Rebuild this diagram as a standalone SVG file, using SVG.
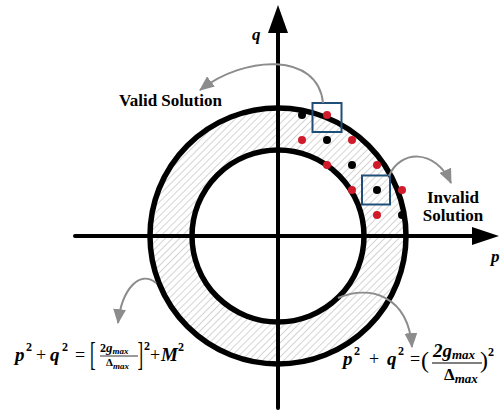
<svg xmlns="http://www.w3.org/2000/svg" width="503" height="414" viewBox="0 0 503 414">
<style>
.lbl{font-family:"Liberation Serif","Times New Roman",serif;font-weight:bold;font-size:17px;fill:#000}
.eq{font-family:"Liberation Serif","Times New Roman",serif;fill:#000}
.v{font-weight:bold;font-style:italic;font-size:19px}
.sup{font-weight:bold;font-size:12px}
.op{font-size:18px}
.sub{font-weight:bold;font-style:italic;font-size:9px}
.ax{stroke:#000;stroke-width:4;stroke-linecap:round;fill:none}
.ring{fill:none;stroke:#000;stroke-width:5.5}
.red{fill:#d01c2a}
.blk{fill:#000}
.box{fill:none;stroke:#1f4e79;stroke-width:2}
.garrow{fill:none;stroke:#8c8c8c;stroke-width:2;marker-end:url(#gh)}
</style>
<defs>
<pattern id="hatch" patternUnits="userSpaceOnUse" width="5" height="5" patternTransform="rotate(45)">
<rect width="5" height="5" fill="#fff"/>
<line x1="0" y1="0" x2="0" y2="5" stroke="#b0b0b0" stroke-width="1.1"/>
</pattern>
<marker id="gh" viewBox="0 0 14 12" refX="13" refY="6" markerWidth="15" markerHeight="13" markerUnits="userSpaceOnUse" orient="auto">
<path d="M0,0 L14,6 L0,12 z" fill="#8c8c8c"/>
</marker>
</defs>
<rect width="503" height="414" fill="#fff"/>

<g id="ring">
<path d="M150,236 a128,128 0 1,0 256,0 a128,128 0 1,0 -256,0 Z M192,236 a86,86 0 1,0 172,0 a86,86 0 1,0 -172,0 Z" fill="url(#hatch)" fill-rule="evenodd"/>
<circle class="ring" cx="278" cy="236" r="128"/>
<circle class="ring" cx="278" cy="236" r="86"/>
</g>

<g id="axes">
<line class="ax" x1="75" y1="236" x2="474" y2="236"/>
<polygon points="472,227 499,236 472,245" fill="#000"/>
<line class="ax" x1="278" y1="408" x2="278" y2="32"/>
<polygon points="268,33 278,5 288,33" fill="#000"/>
<text class="eq v" x="252" y="40" style="font-size:17px">q</text>
<text class="eq v" x="491" y="262" style="font-size:17px">p</text>
</g>

<g id="dots">
<circle class="blk" cx="302" cy="115" r="4"/>
<circle class="red" cx="327" cy="115" r="4"/>
<circle class="red" cx="302" cy="140" r="4"/>
<circle class="blk" cx="327" cy="140" r="4"/>
<circle class="red" cx="352" cy="140" r="4"/>
<circle class="red" cx="327" cy="165" r="4"/>
<circle class="blk" cx="352" cy="165" r="4"/>
<circle class="red" cx="377" cy="165" r="4"/>
<circle class="red" cx="352" cy="190" r="4"/>
<circle class="blk" cx="377" cy="190" r="4"/>
<circle class="red" cx="402" cy="190" r="4"/>
<circle class="red" cx="377" cy="215" r="4"/>
<circle class="blk" cx="402" cy="215" r="4"/>
</g>

<g id="box-valid"><rect class="box" x="312.5" y="103" width="29" height="29"/></g>
<g id="box-invalid"><rect class="box" x="362" y="175.5" width="28" height="29"/></g>

<g id="connectors">
<path class="garrow" d="M323,103 C318,52 245,55 200,90"/>
<path class="garrow" d="M389,176 C400,150 435,148 451,183"/>
<path class="garrow" d="M156,283 C140,270 122,288 118,323"/>
<path class="garrow" d="M338,298 C370,285 408,295 412,347"/>
</g>

<g id="label-valid"><text class="lbl" x="119" y="106">Valid Solution</text></g>
<g id="label-invalid">
<text class="lbl" x="453" y="203" text-anchor="middle">Invalid</text>
<text class="lbl" x="453" y="221" text-anchor="middle">Solution</text>
</g>

<g id="eq-outer">
<text class="eq" y="361"><tspan class="v" x="15">p</tspan><tspan class="sup" x="26" y="351">2</tspan><tspan class="op" x="36" y="361">+</tspan><tspan class="v" x="50" y="361">q</tspan><tspan class="sup" x="62" y="351">2</tspan><tspan class="op" x="75" y="361">=</tspan></text>
<text class="eq" transform="translate(90,365) scale(0.5,1)" style="font-size:34px">[</text>
<text class="eq" x="100" y="352"><tspan style="font-size:12px;font-weight:bold">2</tspan><tspan style="font-size:13px;font-weight:bold;font-style:italic">g</tspan><tspan class="sub" dy="2">max</tspan></text>
<line x1="100" y1="356" x2="138" y2="356" stroke="#000" stroke-width="0.8"/>
<text class="eq" x="106" y="366"><tspan style="font-size:11px;font-weight:bold">Δ</tspan><tspan class="sub" dy="3">max</tspan></text>
<text class="eq" transform="translate(137.5,365) scale(0.5,1)" style="font-size:34px">]</text>
<text class="eq" y="361"><tspan class="sup" x="144" y="350">2</tspan><tspan class="op" x="150" y="361">+</tspan><tspan class="v" x="161" y="361">M</tspan><tspan class="sup" x="178" y="351">2</tspan></text>
</g>

<g id="eq-inner">
<text class="eq" y="365"><tspan class="v" x="343">p</tspan><tspan class="sup" x="354" y="355">2</tspan><tspan class="op" x="369" y="365">+</tspan><tspan class="v" x="387" y="365">q</tspan><tspan class="sup" x="398" y="355">2</tspan><tspan class="op" x="410" y="365">=</tspan></text>
<text class="eq" x="421" y="368" style="font-size:24px">(</text>
<text class="eq" x="433" y="357"><tspan class="v">2g</tspan><tspan class="sub" style="font-size:13px" dy="2">max</tspan></text>
<line x1="432" y1="363" x2="482" y2="363" stroke="#000" stroke-width="1"/>
<text class="eq" x="444" y="380"><tspan style="font-size:17px;font-weight:bold">Δ</tspan><tspan class="sub" style="font-size:13px" dy="3">max</tspan></text>
<text class="eq" x="480" y="368" style="font-size:24px">)</text>
<text class="eq sup" x="488" y="356">2</text>
</g>
</svg>
